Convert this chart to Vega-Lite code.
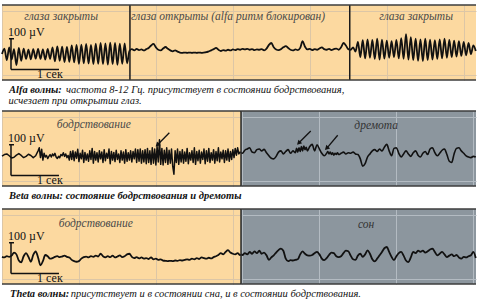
{
"$schema": "https://vega.github.io/schema/vega-lite/v6.json",
"padding": {"left": 1, "top": 4, "right": 0, "bottom": 0},
"background": "#ffffff",
"config": {
  "view": {"stroke": null},
  "axis": {"labels": false, "ticks": false, "domain": false, "grid": true, "gridColor": "#dcc6a6", "gridWidth": 1, "gridOpacity": 1},
  "text": {"font": "Liberation Serif, Times New Roman, DejaVu Serif, serif"}
},
"datasets": {
"a": [{"t":0,"v":0},{"t":0.05,"v":18},{"t":0.1,"v":-20},{"t":0.15,"v":22},{"t":0.2,"v":-18},{"t":0.25,"v":16},{"t":0.3,"v":-36},{"t":0.35,"v":20},{"t":0.4,"v":-22},{"t":0.45,"v":18},{"t":0.5,"v":-16},{"t":0.55,"v":14},{"t":0.6,"v":-17},{"t":0.65,"v":16},{"t":0.7,"v":-15},{"t":0.75,"v":17},{"t":0.8,"v":-16},{"t":0.85,"v":15},{"t":0.9,"v":-18},{"t":0.95,"v":17},{"t":1,"v":-16},{"t":1.05,"v":22},{"t":1.1,"v":-24},{"t":1.15,"v":25},{"t":1.2,"v":-22},{"t":1.25,"v":24},{"t":1.3,"v":-26},{"t":1.35,"v":23},{"t":1.4,"v":-25},{"t":1.45,"v":28},{"t":1.5,"v":-27},{"t":1.55,"v":30},{"t":1.6,"v":-32},{"t":1.65,"v":31},{"t":1.7,"v":-30},{"t":1.75,"v":33},{"t":1.8,"v":-31},{"t":1.85,"v":30},{"t":1.9,"v":-33},{"t":1.95,"v":34},{"t":2,"v":-32},{"t":2.05,"v":36},{"t":2.1,"v":-33},{"t":2.15,"v":35},{"t":2.2,"v":-34},{"t":2.25,"v":37},{"t":2.3,"v":-33},{"t":2.35,"v":36},{"t":2.4,"v":-35},{"t":2.45,"v":34},{"t":2.5,"v":-32},{"t":2.55,"v":35},{"t":2.6,"v":-30},{"t":2.65,"v":10},
{"t":2.7,"v":16},{"t":2.75,"v":12},{"t":2.8,"v":17},{"t":2.85,"v":13},{"t":2.9,"v":15},{"t":2.95,"v":12},{"t":3,"v":16},{"t":3.05,"v":20},{"t":3.1,"v":28},{"t":3.15,"v":33},{"t":3.2,"v":22},{"t":3.25,"v":14},{"t":3.3,"v":12},{"t":3.35,"v":18},{"t":3.4,"v":23},{"t":3.45,"v":17},{"t":3.5,"v":12},{"t":3.55,"v":9},{"t":3.6,"v":12},{"t":3.65,"v":8},{"t":3.7,"v":5},{"t":3.75,"v":4},{"t":3.8,"v":5},{"t":3.85,"v":4},{"t":3.9,"v":5},{"t":3.95,"v":4},{"t":4,"v":5},{"t":4.05,"v":4},{"t":4.1,"v":5},{"t":4.15,"v":4},{"t":4.2,"v":5},{"t":4.25,"v":6},{"t":4.3,"v":9},{"t":4.35,"v":12},{"t":4.4,"v":16},{"t":4.45,"v":20},{"t":4.5,"v":14},{"t":4.55,"v":10},{"t":4.6,"v":13},{"t":4.65,"v":11},{"t":4.7,"v":14},{"t":4.75,"v":12},{"t":4.8,"v":15},{"t":4.85,"v":13},{"t":4.9,"v":16},{"t":4.95,"v":14},{"t":5,"v":17},{"t":5.05,"v":15},{"t":5.1,"v":17},{"t":5.15,"v":14},{"t":5.2,"v":16},{"t":5.25,"v":13},{"t":5.3,"v":15},{"t":5.35,"v":14},{"t":5.4,"v":16},{"t":5.45,"v":12},{"t":5.5,"v":18},{"t":5.55,"v":30},{"t":5.6,"v":36},{"t":5.65,"v":22},{"t":5.7,"v":15},{"t":5.75,"v":13},{"t":5.8,"v":16},{"t":5.85,"v":22},{"t":5.9,"v":26},{"t":5.95,"v":20},{"t":6,"v":14},{"t":6.05,"v":12},{"t":6.1,"v":15},{"t":6.15,"v":13},{"t":6.2,"v":20},{"t":6.25,"v":42},{"t":6.3,"v":24},{"t":6.35,"v":15},{"t":6.4,"v":17},{"t":6.45,"v":13},{"t":6.5,"v":16},{"t":6.55,"v":14},{"t":6.6,"v":18},{"t":6.65,"v":22},{"t":6.7,"v":16},{"t":6.75,"v":14},{"t":6.8,"v":17},{"t":6.85,"v":13},{"t":6.9,"v":16},{"t":6.95,"v":18},{"t":7,"v":14},{"t":7.05,"v":22},{"t":7.1,"v":36},{"t":7.15,"v":28},{"t":7.2,"v":16},
{"t":7.25,"v":14},{"t":7.3,"v":22},{"t":7.35,"v":8},{"t":7.4,"v":40},{"t":7.45,"v":-10},{"t":7.5,"v":45},{"t":7.55,"v":-14},{"t":7.6,"v":48},{"t":7.65,"v":-12},{"t":7.7,"v":46},{"t":7.75,"v":-16},{"t":7.8,"v":50},{"t":7.85,"v":-18},{"t":7.9,"v":47},{"t":7.95,"v":-15},{"t":8,"v":44},{"t":8.05,"v":-12},{"t":8.1,"v":42},{"t":8.15,"v":-10},{"t":8.2,"v":46},{"t":8.25,"v":-14},{"t":8.3,"v":52},{"t":8.35,"v":-16},{"t":8.4,"v":65},{"t":8.45,"v":-18},{"t":8.5,"v":55},{"t":8.55,"v":-20},{"t":8.6,"v":50},{"t":8.65,"v":-22},{"t":8.7,"v":48},{"t":8.75,"v":-23},{"t":8.8,"v":50},{"t":8.85,"v":-20},{"t":8.9,"v":47},{"t":8.95,"v":-18},{"t":9,"v":45},{"t":9.05,"v":-16},{"t":9.1,"v":48},{"t":9.15,"v":-14},{"t":9.2,"v":50},{"t":9.25,"v":-12},{"t":9.3,"v":46},{"t":9.35,"v":-10},{"t":9.4,"v":44},{"t":9.45,"v":-8},{"t":9.5,"v":42},{"t":9.55,"v":-6},{"t":9.6,"v":40},{"t":9.65,"v":-4},{"t":9.7,"v":36},{"t":9.75,"v":0},{"t":9.8,"v":28},{"t":9.85,"v":10}],
"b1": [{"t":0,"v":13},{"t":0.05,"v":18},{"t":0.1,"v":20},{"t":0.15,"v":14},{"t":0.2,"v":7},{"t":0.25,"v":9},{"t":0.3,"v":16},{"t":0.35,"v":21},{"t":0.4,"v":15},{"t":0.45,"v":8},{"t":0.5,"v":12},{"t":0.55,"v":19},{"t":0.6,"v":15},{"t":0.65,"v":8},{"t":0.7,"v":14},{"t":0.75,"v":30},{"t":0.775,"v":40},{"t":0.8,"v":8},{"t":0.825,"v":35},{"t":0.85,"v":0},{"t":0.875,"v":22},{"t":0.9,"v":10},{"t":0.925,"v":15},{"t":0.95,"v":5},{"t":0.975,"v":12},{"t":1,"v":18},{"t":1.025,"v":10},{"t":1.05,"v":20},{"t":1.075,"v":14},{"t":1.1,"v":22},{"t":1.125,"v":10},{"t":1.15,"v":5},{"t":1.175,"v":12},{"t":1.2,"v":8},{"t":1.225,"v":18},{"t":1.25,"v":14},{"t":1.275,"v":24},{"t":1.3,"v":12},{"t":1.325,"v":20},{"t":1.35,"v":8},{"t":1.375,"v":15},{"t":1.4,"v":0},{"t":1.425,"v":28},{"t":1.45,"v":2},{"t":1.475,"v":30},{"t":1.5,"v":-2},{"t":1.525,"v":26},{"t":1.55,"v":6},{"t":1.575,"v":35},{"t":1.6,"v":-5},{"t":1.625,"v":22},{"t":1.65,"v":4},{"t":1.675,"v":32},{"t":1.7,"v":-8},{"t":1.725,"v":25},{"t":1.75,"v":0},{"t":1.775,"v":20},{"t":1.8,"v":-4},{"t":1.825,"v":30},{"t":1.85,"v":2},{"t":1.875,"v":38},{"t":1.9,"v":-10},{"t":1.925,"v":28},{"t":1.95,"v":0},{"t":1.975,"v":24},{"t":2,"v":-6},{"t":2.025,"v":30},{"t":2.05,"v":4},{"t":2.075,"v":26},{"t":2.1,"v":-8},{"t":2.125,"v":34},{"t":2.15,"v":-2},{"t":2.175,"v":22},{"t":2.2,"v":6},{"t":2.225,"v":36},{"t":2.25,"v":-12},{"t":2.275,"v":28},{"t":2.3,"v":0},{"t":2.325,"v":25},{"t":2.35,"v":-5},{"t":2.375,"v":32},{"t":2.4,"v":2},{"t":2.425,"v":20},{"t":2.45,"v":-8},{"t":2.475,"v":30},{"t":2.5,"v":0},{"t":2.525,"v":26},{"t":2.55,"v":-10},{"t":2.575,"v":34},{"t":2.6,"v":-4},{"t":2.625,"v":24},{"t":2.65,"v":0},{"t":2.675,"v":30},{"t":2.7,"v":-6},{"t":2.725,"v":28},{"t":2.75,"v":4},{"t":2.775,"v":36},{"t":2.8,"v":-8},{"t":2.825,"v":34},{"t":2.85,"v":-4},{"t":2.875,"v":36},{"t":2.9,"v":-10},{"t":2.925,"v":30},{"t":2.95,"v":-6},{"t":2.975,"v":34},{"t":3,"v":-12},{"t":3.025,"v":38},{"t":3.05,"v":-8},{"t":3.075,"v":30},{"t":3.1,"v":-14},{"t":3.125,"v":40},{"t":3.15,"v":-10},{"t":3.175,"v":36},{"t":3.2,"v":-16},{"t":3.225,"v":44},{"t":3.25,"v":-6},{"t":3.275,"v":66},{"t":3.3,"v":-14},{"t":3.325,"v":38},{"t":3.35,"v":-16},{"t":3.375,"v":32},{"t":3.4,"v":-8},{"t":3.425,"v":40},{"t":3.45,"v":-14},{"t":3.475,"v":32},{"t":3.5,"v":-10},{"t":3.525,"v":36},{"t":3.55,"v":-20},{"t":3.575,"v":-46},{"t":3.6,"v":30},{"t":3.625,"v":-8},{"t":3.65,"v":36},{"t":3.675,"v":-14},{"t":3.7,"v":28},{"t":3.725,"v":-6},{"t":3.75,"v":34},{"t":3.775,"v":-10},{"t":3.8,"v":26},{"t":3.825,"v":-4},{"t":3.85,"v":38},{"t":3.875,"v":-12},{"t":3.9,"v":24},{"t":3.925,"v":0},{"t":3.95,"v":30},{"t":3.975,"v":-8},{"t":4,"v":40},{"t":4.025,"v":-14},{"t":4.05,"v":28},{"t":4.075,"v":-2},{"t":4.1,"v":32},{"t":4.125,"v":-10},{"t":4.15,"v":26},{"t":4.175,"v":2},{"t":4.2,"v":36},{"t":4.225,"v":-12},{"t":4.25,"v":30},{"t":4.275,"v":-4},{"t":4.3,"v":38},{"t":4.325,"v":-8},{"t":4.35,"v":24},{"t":4.375,"v":0},{"t":4.4,"v":34},{"t":4.425,"v":-10},{"t":4.45,"v":28},{"t":4.475,"v":-2},{"t":4.5,"v":40},{"t":4.525,"v":-6},{"t":4.55,"v":26},{"t":4.575,"v":4},{"t":4.6,"v":32},{"t":4.625,"v":-8},{"t":4.65,"v":30},{"t":4.675,"v":0},{"t":4.7,"v":36},{"t":4.725,"v":-4},{"t":4.75,"v":28},{"t":4.775,"v":2},{"t":4.8,"v":34},{"t":4.825,"v":8},{"t":4.85,"v":38},{"t":4.875,"v":16},{"t":4.9,"v":40},{"t":4.925,"v":20},{"t":4.95,"v":26},{"t":4.97,"v":24}],
"b2": [{"t":4.97,"v":24},{"t":5,"v":22},{"t":5.05,"v":32},{"t":5.1,"v":36},{"t":5.15,"v":40},{"t":5.2,"v":26},{"t":5.25,"v":24},{"t":5.3,"v":34},{"t":5.35,"v":36},{"t":5.4,"v":30},{"t":5.45,"v":35},{"t":5.5,"v":24},{"t":5.55,"v":14},{"t":5.6,"v":6},{"t":5.65,"v":4},{"t":5.7,"v":12},{"t":5.75,"v":26},{"t":5.8,"v":30},{"t":5.85,"v":20},{"t":5.9,"v":28},{"t":5.95,"v":34},{"t":6,"v":22},{"t":6.05,"v":30},{"t":6.1,"v":24},{"t":6.125,"v":38},{"t":6.15,"v":26},{"t":6.175,"v":40},{"t":6.2,"v":28},{"t":6.225,"v":44},{"t":6.25,"v":30},{"t":6.275,"v":46},{"t":6.3,"v":34},{"t":6.325,"v":42},{"t":6.35,"v":30},{"t":6.4,"v":44},{"t":6.45,"v":51},{"t":6.5,"v":30},{"t":6.55,"v":50},{"t":6.6,"v":36},{"t":6.65,"v":22},{"t":6.7,"v":14},{"t":6.75,"v":22},{"t":6.775,"v":28},{"t":6.8,"v":20},{"t":6.825,"v":26},{"t":6.85,"v":18},{"t":6.875,"v":24},{"t":6.9,"v":16},{"t":6.925,"v":22},{"t":6.95,"v":18},{"t":6.975,"v":24},{"t":7,"v":18},{"t":7.05,"v":22},{"t":7.1,"v":26},{"t":7.15,"v":20},{"t":7.2,"v":24},{"t":7.25,"v":22},{"t":7.3,"v":26},{"t":7.35,"v":20},{"t":7.4,"v":18},{"t":7.45,"v":4},{"t":7.5,"v":-20},{"t":7.55,"v":-12},{"t":7.6,"v":10},{"t":7.65,"v":20},{"t":7.7,"v":30},{"t":7.75,"v":34},{"t":7.8,"v":28},{"t":7.85,"v":36},{"t":7.9,"v":30},{"t":7.95,"v":42},{"t":8,"v":51},{"t":8.05,"v":30},{"t":8.1,"v":14},{"t":8.15,"v":38},{"t":8.2,"v":40},{"t":8.25,"v":22},{"t":8.3,"v":10},{"t":8.35,"v":20},{"t":8.4,"v":30},{"t":8.45,"v":20},{"t":8.5,"v":12},{"t":8.55,"v":24},{"t":8.6,"v":30},{"t":8.65,"v":16},{"t":8.7,"v":10},{"t":8.75,"v":22},{"t":8.8,"v":28},{"t":8.85,"v":18},{"t":8.9,"v":36},{"t":8.95,"v":40},{"t":9,"v":24},{"t":9.05,"v":14},{"t":9.1,"v":22},{"t":9.15,"v":32},{"t":9.2,"v":36},{"t":9.25,"v":18},{"t":9.3,"v":-4},{"t":9.35,"v":-8},{"t":9.4,"v":20},{"t":9.45,"v":38},{"t":9.5,"v":40},{"t":9.55,"v":30},{"t":9.6,"v":22},{"t":9.65,"v":14},{"t":9.7,"v":10},{"t":9.75,"v":8},{"t":9.8,"v":12},{"t":9.85,"v":10}],
"c1": [{"t":0,"v":4},{"t":0.05,"v":2},{"t":0.1,"v":6},{"t":0.15,"v":4},{"t":0.2,"v":8},{"t":0.25,"v":18},{"t":0.3,"v":12},{"t":0.35,"v":-8},{"t":0.4,"v":-14},{"t":0.45,"v":6},{"t":0.5,"v":16},{"t":0.55,"v":4},{"t":0.6,"v":-12},{"t":0.65,"v":10},{"t":0.7,"v":22},{"t":0.75,"v":2},{"t":0.8,"v":-24},{"t":0.85,"v":-10},{"t":0.9,"v":10},{"t":0.95,"v":6},{"t":1,"v":-2},{"t":1.05,"v":0},{"t":1.1,"v":4},{"t":1.15,"v":6},{"t":1.2,"v":3},{"t":1.25,"v":5},{"t":1.3,"v":8},{"t":1.35,"v":4},{"t":1.4,"v":2},{"t":1.45,"v":-6},{"t":1.5,"v":-10},{"t":1.55,"v":-12},{"t":1.6,"v":-10},{"t":1.65,"v":-2},{"t":1.7,"v":3},{"t":1.75,"v":5},{"t":1.8,"v":2},{"t":1.85,"v":6},{"t":1.9,"v":4},{"t":1.95,"v":8},{"t":2,"v":5},{"t":2.05,"v":14},{"t":2.1,"v":6},{"t":2.15,"v":2},{"t":2.2,"v":6},{"t":2.25,"v":3},{"t":2.3,"v":8},{"t":2.35,"v":2},{"t":2.4,"v":5},{"t":2.45,"v":9},{"t":2.5,"v":3},{"t":2.55,"v":6},{"t":2.6,"v":12},{"t":2.65,"v":14},{"t":2.7,"v":4},{"t":2.75,"v":0},{"t":2.8,"v":3},{"t":2.85,"v":-1},{"t":2.9,"v":2},{"t":2.95,"v":-2},{"t":3,"v":0},{"t":3.05,"v":-3},{"t":3.1,"v":2},{"t":3.15,"v":-4},{"t":3.2,"v":-2},{"t":3.25,"v":-6},{"t":3.3,"v":-4},{"t":3.35,"v":-8},{"t":3.4,"v":-9},{"t":3.45,"v":-10},{"t":3.5,"v":-9},{"t":3.55,"v":-10},{"t":3.6,"v":-8},{"t":3.65,"v":-9},{"t":3.7,"v":-7},{"t":3.75,"v":-8},{"t":3.8,"v":-6},{"t":3.85,"v":-4},{"t":3.9,"v":-6},{"t":3.95,"v":-2},{"t":4,"v":-4},{"t":4.05,"v":0},{"t":4.1,"v":-3},{"t":4.15,"v":2},{"t":4.2,"v":0},{"t":4.25,"v":-2},{"t":4.3,"v":1},{"t":4.35,"v":-1},{"t":4.4,"v":3},{"t":4.45,"v":6},{"t":4.5,"v":10},{"t":4.55,"v":16},{"t":4.6,"v":12},{"t":4.65,"v":20},{"t":4.7,"v":26},{"t":4.75,"v":18},{"t":4.8,"v":14},{"t":4.85,"v":12},{"t":4.9,"v":16},{"t":4.95,"v":10},{"t":4.97,"v":12}],
"c2": [{"t":4.97,"v":12},{"t":5,"v":10},{"t":5.05,"v":16},{"t":5.1,"v":12},{"t":5.15,"v":20},{"t":5.2,"v":14},{"t":5.25,"v":22},{"t":5.3,"v":16},{"t":5.35,"v":24},{"t":5.4,"v":14},{"t":5.45,"v":18},{"t":5.5,"v":9},{"t":5.55,"v":-6},{"t":5.6,"v":2},{"t":5.65,"v":9},{"t":5.7,"v":18},{"t":5.75,"v":26},{"t":5.8,"v":31},{"t":5.85,"v":24},{"t":5.9,"v":-2},{"t":5.95,"v":-10},{"t":6,"v":-7},{"t":6.05,"v":-8},{"t":6.1,"v":-6},{"t":6.15,"v":-4},{"t":6.2,"v":12},{"t":6.25,"v":22},{"t":6.3,"v":14},{"t":6.35,"v":9},{"t":6.4,"v":8},{"t":6.45,"v":10},{"t":6.5,"v":16},{"t":6.55,"v":20},{"t":6.6,"v":12},{"t":6.65,"v":-2},{"t":6.7,"v":-7},{"t":6.75,"v":0},{"t":6.8,"v":10},{"t":6.85,"v":18},{"t":6.9,"v":16},{"t":6.95,"v":6},{"t":7,"v":3},{"t":7.05,"v":6},{"t":7.1,"v":16},{"t":7.15,"v":24},{"t":7.2,"v":22},{"t":7.25,"v":8},{"t":7.3,"v":-4},{"t":7.35,"v":-6},{"t":7.4,"v":8},{"t":7.45,"v":14},{"t":7.5,"v":4},{"t":7.55,"v":12},{"t":7.6,"v":25},{"t":7.65,"v":14},{"t":7.7,"v":-4},{"t":7.75,"v":-11},{"t":7.8,"v":-2},{"t":7.85,"v":9},{"t":7.9,"v":20},{"t":7.95,"v":32},{"t":8,"v":36},{"t":8.05,"v":20},{"t":8.1,"v":4},{"t":8.15,"v":-7},{"t":8.2,"v":6},{"t":8.25,"v":16},{"t":8.3,"v":20},{"t":8.35,"v":8},{"t":8.4,"v":-8},{"t":8.45,"v":-13},{"t":8.5,"v":2},{"t":8.55,"v":20},{"t":8.6,"v":16},{"t":8.65,"v":24},{"t":8.7,"v":20},{"t":8.75,"v":24},{"t":8.8,"v":18},{"t":8.85,"v":22},{"t":8.9,"v":28},{"t":8.95,"v":31},{"t":9,"v":20},{"t":9.05,"v":9},{"t":9.1,"v":14},{"t":9.15,"v":20},{"t":9.2,"v":12},{"t":9.25,"v":3},{"t":9.3,"v":8},{"t":9.35,"v":12},{"t":9.4,"v":6},{"t":9.45,"v":10},{"t":9.5,"v":2},{"t":9.55,"v":-2},{"t":9.6,"v":4},{"t":9.65,"v":2},{"t":9.7,"v":6},{"t":9.75,"v":9},{"t":9.8,"v":20},{"t":9.85,"v":0}],
"sb": [{"x":0.187,"x2":0.187,"y":50,"y2":-50},{"x":0.187,"x2":1.185,"y":-50,"y2":-50},{"x":0.146,"x2":0.25,"y":50,"y2":50}],
"sl": [{"t":0.125,"v":72,"s":"100 µV"},{"t":0.73,"v":-65,"s":"1 сек"}],
"edge": [{"v":160},{"v":-84.6}]
},
"bounds": "flush",
"spacing": 31,
"vconcat": [
{
 "width": 474, "height": 75,
 "view": {"fill": "#fcd9a0", "stroke": null},
 "layer": [
  {"data": {"name": "a"}, "mark": {"type": "line", "color": "#111111", "strokeWidth": 1.8, "interpolate": "monotone", "strokeJoin": "round"},
   "encoding": {
    "x": {"field": "t", "type": "quantitative", "scale": {"domain": [0, 9.855], "nice": false, "zero": false}, "axis": {"title": null, "values": [0,0.2,0.4,0.6,0.8,1,1.2,1.4,1.6,1.8,2,2.2,2.4,2.6,2.8,3,3.2,3.4,3.6,3.8,4,4.2,4.4,4.6,4.8,5,5.2,5.4,5.6,5.8,6,6.2,6.4,6.6,6.8,7,7.2,7.4,7.6,7.8,8,8.2,8.4,8.6,8.8,9,9.2,9.4,9.6,9.8]}},
    "y": {"field": "v", "type": "quantitative", "scale": {"domain": [-84.6, 160], "nice": false, "zero": false}, "axis": {"title": null, "values": [141.4,111.4,81.4,51.4,21.4,-8.6,-38.6,-68.6]}}
   }},
  {"data": {"values": [{"t": 2.66}, {"t": 7.23}]}, "mark": {"type": "rule", "color": "#1a1a1a", "strokeWidth": 1.5}, "encoding": {"x": {"field": "t", "type": "quantitative"}}},
  {"data": {"name": "edge"}, "mark": {"type": "rule", "color": "#3c3c3c", "strokeWidth": 1.5}, "encoding": {"y": {"field": "v", "type": "quantitative"}}},
  {"data": {"name": "sb"}, "mark": {"type": "rule", "color": "#111111", "strokeWidth": 1.5}, "encoding": {"x": {"field": "x", "type": "quantitative"}, "x2": {"field": "x2"}, "y": {"field": "y", "type": "quantitative"}, "y2": {"field": "y2"}}},
  {"data": {"name": "sl"}, "mark": {"type": "text", "align": "left", "baseline": "middle", "fontSize": 12, "color": "#111111"}, "encoding": {"x": {"field": "t", "type": "quantitative"}, "y": {"field": "v", "type": "quantitative"}, "text": {"field": "s"}}},
  {"data": {"values": [{"t": 1.23, "v": 121, "s": "глаза закрыты"}, {"t": 4.7, "v": 121, "s": "глаза открыты (alfa ритм блокирован)"}, {"t": 8.61, "v": 121, "s": "глаза закрыты"}]}, "mark": {"type": "text", "align": "center", "baseline": "middle", "fontSize": 11.5, "fontStyle": "italic", "color": "#4a4a4a"}, "encoding": {"x": {"field": "t", "type": "quantitative"}, "y": {"field": "v", "type": "quantitative"}, "text": {"field": "s"}}},
  {"data": {"values": [{"s": "Alfa волны:"}]}, "mark": {"type": "text", "align": "left", "baseline": "middle", "dy": 10, "fontSize": 10.5, "fontStyle": "italic", "fontWeight": "bold", "color": "#111111"}, "encoding": {"x": {"datum": 0.146}, "y": {"datum": -84.6}, "text": {"field": "s"}}},
  {"data": {"values": [{"s": "частота 8-12 Гц. присутствует в состоянии бодрствования,"}]}, "mark": {"type": "text", "align": "left", "baseline": "middle", "dy": 10, "fontSize": 10.5, "fontStyle": "italic", "color": "#111111"}, "encoding": {"x": {"datum": 1.33}, "y": {"datum": -84.6}, "text": {"field": "s"}}},
  {"data": {"values": [{"s": "исчезает при открытии глаз."}]}, "mark": {"type": "text", "align": "left", "baseline": "middle", "dy": 21, "fontSize": 10.5, "fontStyle": "italic", "color": "#111111"}, "encoding": {"x": {"datum": 0.135}, "y": {"datum": -84.6}, "text": {"field": "s"}}}
 ]
},
{
 "bounds": "full",
 "spacing": 6,
 "vconcat": [
  {
   "bounds": "flush", "spacing": 0,
   "hconcat": [
    {
     "width": 239, "height": 75,
     "view": {"fill": "#fcd9a0", "stroke": null},
     "layer": [
      {"data": {"name": "b1"}, "mark": {"type": "line", "color": "#111111", "strokeWidth": 1.5, "strokeJoin": "round"},
       "encoding": {
        "x": {"field": "t", "type": "quantitative", "scale": {"domain": [0, 4.97], "nice": false, "zero": false}, "axis": {"title": null, "values": [0,0.2,0.4,0.6,0.8,1,1.2,1.4,1.6,1.8,2,2.2,2.4,2.6,2.8,3,3.2,3.4,3.6,3.8,4,4.2,4.4,4.6,4.8]}},
        "y": {"field": "v", "type": "quantitative", "scale": {"domain": [-84.6, 160], "nice": false, "zero": false}, "axis": {"title": null, "values": [141.4,111.4,81.4,51.4,21.4,-8.6,-38.6,-68.6]}}
       }},
      {"data": {"name": "edge"}, "mark": {"type": "rule", "color": "#3c3c3c", "strokeWidth": 1.5}, "encoding": {"y": {"field": "v", "type": "quantitative"}}},
      {"data": {"name": "sb"}, "mark": {"type": "rule", "color": "#111111", "strokeWidth": 1.5}, "encoding": {"x": {"field": "x", "type": "quantitative"}, "x2": {"field": "x2"}, "y": {"field": "y", "type": "quantitative"}, "y2": {"field": "y2"}}},
      {"data": {"name": "sl"}, "mark": {"type": "text", "align": "left", "baseline": "middle", "fontSize": 12, "color": "#111111"}, "encoding": {"x": {"field": "t", "type": "quantitative"}, "y": {"field": "v", "type": "quantitative"}, "text": {"field": "s"}}},
      {"data": {"values": [{"t": 1.91, "v": 114, "s": "бодрствование"}]}, "mark": {"type": "text", "align": "center", "baseline": "middle", "fontSize": 11.5, "fontStyle": "italic", "color": "#4a4a4a"}, "encoding": {"x": {"field": "t", "type": "quantitative"}, "y": {"field": "v", "type": "quantitative"}, "text": {"field": "s"}}},
      {"data": {"values": [{"x": 3.48, "y": 89, "x2": 3.24, "y2": 51}]}, "mark": {"type": "rule", "color": "#111111", "strokeWidth": 1.3}, "encoding": {"x": {"field": "x", "type": "quantitative"}, "x2": {"field": "x2"}, "y": {"field": "y", "type": "quantitative"}, "y2": {"field": "y2"}}},
      {"data": {"values": [{"x": 3.24, "y": 51}]}, "mark": {"type": "point", "shape": "triangle", "filled": true, "color": "#111111", "size": 28, "angle": 225, "opacity": 1}, "encoding": {"x": {"field": "x", "type": "quantitative"}, "y": {"field": "y", "type": "quantitative"}}},
      {"data": {"values": [{"s": "Beta волны: состояние бодрствования и дремоты"}]}, "mark": {"type": "text", "align": "left", "baseline": "middle", "dy": 10, "fontSize": 10.5, "fontStyle": "italic", "fontWeight": "bold", "color": "#111111"}, "encoding": {"x": {"datum": 0.146}, "y": {"datum": -84.6}, "text": {"field": "s"}}}
     ]
    },
    {
     "width": 235, "height": 75,
     "view": {"fill": "#8c969e", "stroke": null},
     "layer": [
      {"data": {"name": "b2"}, "mark": {"type": "line", "color": "#111111", "strokeWidth": 1.6, "interpolate": "monotone", "strokeJoin": "round"},
       "encoding": {
        "x": {"field": "t", "type": "quantitative", "scale": {"domain": [4.97, 9.855], "nice": false, "zero": false}, "axis": {"title": null, "gridColor": "#b3bbc2", "values": [5,5.2,5.4,5.6,5.8,6,6.2,6.4,6.6,6.8,7,7.2,7.4,7.6,7.8,8,8.2,8.4,8.6,8.8,9,9.2,9.4,9.6,9.8]}},
        "y": {"field": "v", "type": "quantitative", "scale": {"domain": [-84.6, 160], "nice": false, "zero": false}, "axis": {"title": null, "gridColor": "#b3bbc2", "values": [141.4,111.4,81.4,51.4,21.4,-8.6,-38.6,-68.6]}}
       }},
      {"data": {"values": [{"t": 4.97}]}, "mark": {"type": "rule", "color": "#2a2a2a", "strokeWidth": 1.5}, "encoding": {"x": {"field": "t", "type": "quantitative"}}},
      {"data": {"name": "edge"}, "mark": {"type": "rule", "color": "#3c3c3c", "strokeWidth": 1.5}, "encoding": {"y": {"field": "v", "type": "quantitative"}}},
      {"data": {"values": [{"t": 7.78, "v": 111, "s": "дремота"}]}, "mark": {"type": "text", "align": "center", "baseline": "middle", "fontSize": 11.5, "fontStyle": "italic", "color": "#333333"}, "encoding": {"x": {"field": "t", "type": "quantitative"}, "y": {"field": "v", "type": "quantitative"}, "text": {"field": "s"}}},
      {"data": {"values": [{"x": 6.42, "y": 95, "x2": 6.18, "y2": 57}, {"x": 6.98, "y": 81, "x2": 6.76, "y2": 40}]}, "mark": {"type": "rule", "color": "#111111", "strokeWidth": 1.3}, "encoding": {"x": {"field": "x", "type": "quantitative"}, "x2": {"field": "x2"}, "y": {"field": "y", "type": "quantitative"}, "y2": {"field": "y2"}}},
      {"data": {"values": [{"x": 6.18, "y": 57}, {"x": 6.76, "y": 40}]}, "mark": {"type": "point", "shape": "triangle", "filled": true, "color": "#111111", "size": 28, "angle": 225, "opacity": 1}, "encoding": {"x": {"field": "x", "type": "quantitative"}, "y": {"field": "y", "type": "quantitative"}}}
     ]
    }
   ]
  },
  {
   "bounds": "flush", "spacing": 0,
   "hconcat": [
    {
     "width": 239, "height": 75,
     "view": {"fill": "#fcd9a0", "stroke": null},
     "layer": [
      {"data": {"name": "c1"}, "mark": {"type": "line", "color": "#111111", "strokeWidth": 1.8, "interpolate": "monotone", "strokeJoin": "round"},
       "encoding": {
        "x": {"field": "t", "type": "quantitative", "scale": {"domain": [0, 4.97], "nice": false, "zero": false}, "axis": {"title": null, "values": [0,0.2,0.4,0.6,0.8,1,1.2,1.4,1.6,1.8,2,2.2,2.4,2.6,2.8,3,3.2,3.4,3.6,3.8,4,4.2,4.4,4.6,4.8]}},
        "y": {"field": "v", "type": "quantitative", "scale": {"domain": [-84.6, 160], "nice": false, "zero": false}, "axis": {"title": null, "values": [141.4,111.4,81.4,51.4,21.4,-8.6,-38.6,-68.6]}}
       }},
      {"data": {"name": "edge"}, "mark": {"type": "rule", "color": "#3c3c3c", "strokeWidth": 1.5}, "encoding": {"y": {"field": "v", "type": "quantitative"}}},
      {"data": {"name": "sb"}, "mark": {"type": "rule", "color": "#111111", "strokeWidth": 1.5}, "encoding": {"x": {"field": "x", "type": "quantitative"}, "x2": {"field": "x2"}, "y": {"field": "y", "type": "quantitative"}, "y2": {"field": "y2"}}},
      {"data": {"name": "sl"}, "mark": {"type": "text", "align": "left", "baseline": "middle", "fontSize": 12, "color": "#111111"}, "encoding": {"x": {"field": "t", "type": "quantitative"}, "y": {"field": "v", "type": "quantitative"}, "text": {"field": "s"}}},
      {"data": {"values": [{"t": 1.95, "v": 111, "s": "бодрствование"}]}, "mark": {"type": "text", "align": "center", "baseline": "middle", "fontSize": 11.5, "fontStyle": "italic", "color": "#4a4a4a"}, "encoding": {"x": {"field": "t", "type": "quantitative"}, "y": {"field": "v", "type": "quantitative"}, "text": {"field": "s"}}},
      {"data": {"values": [{"s": "Theta волны:"}]}, "mark": {"type": "text", "align": "left", "baseline": "middle", "dy": 10, "fontSize": 10.5, "fontStyle": "italic", "fontWeight": "bold", "color": "#111111"}, "encoding": {"x": {"datum": 0.166}, "y": {"datum": -84.6}, "text": {"field": "s"}}},
      {"data": {"values": [{"s": "присутствует и в состоянии сна, и в состоянии бодрствования."}]}, "mark": {"type": "text", "align": "left", "baseline": "middle", "dy": 10, "fontSize": 10.5, "fontStyle": "italic", "color": "#111111"}, "encoding": {"x": {"datum": 1.43}, "y": {"datum": -84.6}, "text": {"field": "s"}}}
     ]
    },
    {
     "width": 235, "height": 75,
     "view": {"fill": "#8c969e", "stroke": null},
     "layer": [
      {"data": {"name": "c2"}, "mark": {"type": "line", "color": "#111111", "strokeWidth": 1.8, "interpolate": "monotone", "strokeJoin": "round"},
       "encoding": {
        "x": {"field": "t", "type": "quantitative", "scale": {"domain": [4.97, 9.855], "nice": false, "zero": false}, "axis": {"title": null, "gridColor": "#b3bbc2", "values": [5,5.2,5.4,5.6,5.8,6,6.2,6.4,6.6,6.8,7,7.2,7.4,7.6,7.8,8,8.2,8.4,8.6,8.8,9,9.2,9.4,9.6,9.8]}},
        "y": {"field": "v", "type": "quantitative", "scale": {"domain": [-84.6, 160], "nice": false, "zero": false}, "axis": {"title": null, "gridColor": "#b3bbc2", "values": [141.4,111.4,81.4,51.4,21.4,-8.6,-38.6,-68.6]}}
       }},
      {"data": {"values": [{"t": 4.97}]}, "mark": {"type": "rule", "color": "#2a2a2a", "strokeWidth": 1.5}, "encoding": {"x": {"field": "t", "type": "quantitative"}}},
      {"data": {"name": "edge"}, "mark": {"type": "rule", "color": "#3c3c3c", "strokeWidth": 1.5}, "encoding": {"y": {"field": "v", "type": "quantitative"}}},
      {"data": {"values": [{"t": 7.57, "v": 108, "s": "сон"}]}, "mark": {"type": "text", "align": "center", "baseline": "middle", "fontSize": 11.5, "fontStyle": "italic", "color": "#333333"}, "encoding": {"x": {"field": "t", "type": "quantitative"}, "y": {"field": "v", "type": "quantitative"}, "text": {"field": "s"}}}
     ]
    }
   ]
  }
 ]
}
]
}
